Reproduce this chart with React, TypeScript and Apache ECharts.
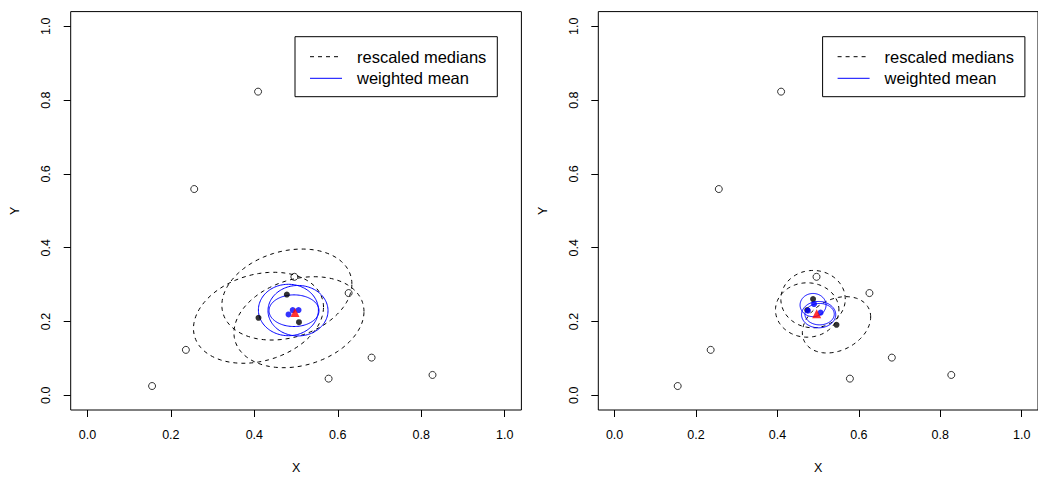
import React, { useEffect, useRef } from "react";
import * as echarts from "echarts";

// ---- data ----
const TICKS = [0, 0.2, 0.4, 0.6, 0.8, 1.0];

// observed data points (same in both panels)
const openPoints: number[][] = [
  [0.155, 0.025],
  [0.236, 0.123],
  [0.256, 0.559],
  [0.409, 0.823],
  [0.496, 0.321],
  [0.578, 0.045],
  [0.626, 0.277],
  [0.681, 0.102],
  [0.827, 0.055],
];

// left panel
const leftMedians: number[][] = [
  [0.478, 0.273],
  [0.41, 0.21],
  [0.507, 0.198],
];
const leftMeans: number[][] = [
  [0.482, 0.219],
  [0.492, 0.231],
  [0.506, 0.231],
];
const leftCenter: number[][] = [[0.4975, 0.224]];
// ellipses: [cx, cy, ux, uy, vx, vy] (centre + two conjugate semi-axes, data units)
const leftMedianEllipses: number[][] = [
  [0.478, 0.273, 0.1558, 0.0289, 0.0, 0.1199],
  [0.41, 0.21, 0.1558, 0.0289, 0.0, 0.1199],
  [0.507, 0.198, 0.1558, 0.0289, 0.0, 0.1199],
];
const leftMeanEllipses: number[][] = [
  [0.4817, 0.2311, 0.0719, 0.0, 0.0, 0.0697],
  [0.5047, 0.2292, 0.0719, 0.0, 0.0, 0.0684],
  [0.4951, 0.2292, 0.0599, 0.0, 0.0, 0.0429],
];

// right panel
const rightMedians: number[][] = [
  [0.4875, 0.2606],
  [0.4731, 0.2311],
  [0.5451, 0.1909],
];
const rightMeans: number[][] = [
  [0.4899, 0.2472],
  [0.4748, 0.2292],
  [0.506, 0.2239],
];
const rightCenter: number[][] = [[0.4964, 0.2212]];
const rightMedianEllipses: number[][] = [
  [0.4875, 0.2606, 0.0791, 0.0, 0.0, 0.0777],
  [0.4731, 0.2311, 0.0779, 0.0, 0.0, 0.0737],
  [0.5451, 0.1909, 0.0839, 0.0214, 0.0, 0.0733],
];
const rightMeanEllipses: number[][] = [
  [0.4875, 0.2445, 0.0319, 0.0, 0.0, 0.0314],
  [0.5012, 0.2185, 0.042, 0.0, 0.0, 0.0357],
  [0.5036, 0.2198, 0.036, 0.0, 0.0, 0.029],
];

const LEGEND_LABELS = ["rescaled medians", "weighted mean"];

const FONT = "'Liberation Sans', Arial, Helvetica, sans-serif";

function ellipseSeries(data: number[][], idx: number, color: string, dashed: boolean) {
  return {
    type: "custom",
    xAxisIndex: idx,
    yAxisIndex: idx,
    silent: true,
    encode: { x: 0, y: 1 },
    data,
    renderItem: (_p: any, api: any) => {
      const cx = api.value(0), cy = api.value(1);
      const ux = api.value(2), uy = api.value(3);
      const vx = api.value(4), vy = api.value(5);
      const pts: number[][] = [];
      const N = 120;
      for (let k = 0; k < N; k++) {
        const t = (2 * Math.PI * k) / N;
        pts.push(api.coord([cx + ux * Math.cos(t) + vx * Math.sin(t), cy + uy * Math.cos(t) + vy * Math.sin(t)]));
      }
      return {
        type: "polygon",
        shape: { points: pts },
        style: { fill: "none", stroke: color, lineWidth: 1, lineDash: dashed ? [4, 4] : null },
      };
    },
  };
}

function pointSeries(data: number[][], idx: number, kind: string) {
  const base: any = { type: "scatter", xAxisIndex: idx, yAxisIndex: idx, data, silent: true };
  if (kind === "open") {
    base.symbol = "circle";
    base.symbolSize = 7;
    base.itemStyle = { color: "rgba(0,0,0,0)", borderColor: "#000", borderWidth: 1 };
  } else if (kind === "black") {
    base.symbol = "circle";
    base.symbolSize = 6;
    base.itemStyle = { color: "#000" };
  } else if (kind === "blue") {
    base.symbol = "circle";
    base.symbolSize = 6;
    base.itemStyle = { color: "#0000FF" };
  } else {
    base.symbol = "triangle";
    base.symbolSize = 9;
    base.itemStyle = { color: "#FF0000" };
  }
  return base;
}

function axisPair(idx: number) {
  const common = {
    type: "value",
    gridIndex: idx,
    min: -0.04,
    max: 1.04,
    splitLine: { show: false },
    axisLine: { show: false, onZero: false },
    axisTick: { show: true, customValues: TICKS, length: 7, lineStyle: { color: "#000", width: 1 } },
    nameLocation: "middle",
    nameTextStyle: { fontFamily: FONT, fontSize: 12.5, color: "#000" },
  };
  return {
    x: {
      ...common,
      name: "X",
      nameGap: 51,
      axisLabel: {
        customValues: TICKS,
        formatter: (v: number) => v.toFixed(1),
        margin: 18,
        fontFamily: FONT,
        fontSize: 12.5,
        color: "#000",
      },
    },
    y: {
      ...common,
      name: "Y",
      nameGap: 49,
      nameRotate: 90,
      axisLabel: {
        customValues: TICKS,
        formatter: (v: number) => v.toFixed(1),
        margin: 18,
        rotate: 90,
        fontFamily: FONT,
        fontSize: 12.5,
        color: "#000",
      },
    },
  };
}

function legendGraphic(x0: number) {
  const y0 = 36.7;
  return [
    { type: "rect", shape: { x: x0, y: y0, width: 202.3, height: 60 }, style: { fill: "#fff", stroke: "#000", lineWidth: 1 }, z: 100 },
    { type: "line", shape: { x1: x0 + 15, y1: y0 + 20, x2: x0 + 47, y2: y0 + 20 }, style: { stroke: "#000", lineWidth: 1, lineDash: [4, 4] }, z: 101 },
    { type: "line", shape: { x1: x0 + 15, y1: y0 + 41.6, x2: x0 + 47, y2: y0 + 41.6 }, style: { stroke: "#0000FF", lineWidth: 1 }, z: 101 },
    { type: "text", x: x0 + 62, y: y0 + 20, style: { text: LEGEND_LABELS[0], fontFamily: FONT, fontSize: 16.5, fill: "#000", verticalAlign: "middle", align: "left" }, z: 101 },
    { type: "text", x: x0 + 62, y: y0 + 41.6, style: { text: LEGEND_LABELS[1], fontFamily: FONT, fontSize: 16.5, fill: "#000", verticalAlign: "middle", align: "left" }, z: 101 },
  ];
}

export default function App() {
  const ref = useRef<HTMLDivElement>(null);
  useEffect(() => {
    if (!ref.current) return;
    const chart = echarts.init(ref.current, undefined, { renderer: "svg" });
    const a0 = axisPair(0);
    const a1 = axisPair(1);
    const gridCommon = { top: 11.6, width: 450.7, height: 402.8, show: true, borderColor: "#000", borderWidth: 1, backgroundColor: "#fff" };
    chart.setOption({
      animation: false,
      backgroundColor: "#fff",
      grid: [
        { ...gridCommon, left: 70.7 },
        { ...gridCommon, left: 598.3 },
      ],
      xAxis: [a0.x, a1.x],
      yAxis: [a0.y, a1.y],
      graphic: [...legendGraphic(295), ...legendGraphic(822.6)],
      series: [
        ellipseSeries(leftMedianEllipses, 0, "#000", true),
        ellipseSeries(leftMeanEllipses, 0, "#0000FF", false),
        pointSeries(openPoints, 0, "open"),
        pointSeries(leftMedians, 0, "black"),
        pointSeries(leftMeans, 0, "blue"),
        pointSeries(leftCenter, 0, "red"),
        ellipseSeries(rightMedianEllipses, 1, "#000", true),
        ellipseSeries(rightMeanEllipses, 1, "#0000FF", false),
        pointSeries(openPoints, 1, "open"),
        pointSeries(rightMedians, 1, "black"),
        pointSeries(rightMeans, 1, "blue"),
        pointSeries(rightCenter, 1, "red"),
      ],
    });
    return () => chart.dispose();
  }, []);
  return <div ref={ref} style={{ position: "fixed", left: 0, top: 0, width: 1038, height: 479 }} />;
}
